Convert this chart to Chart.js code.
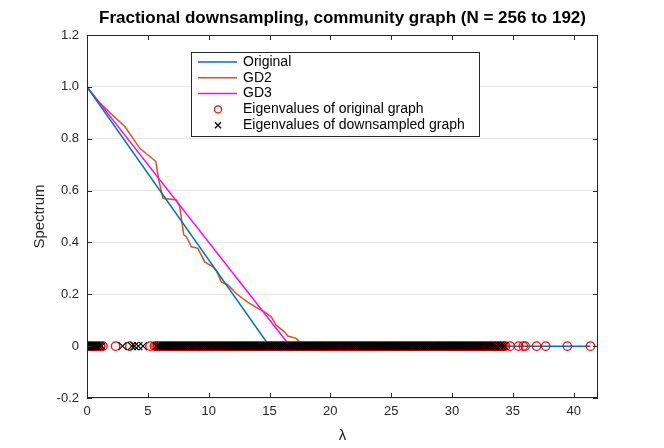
<!DOCTYPE html>
<html>
<head>
<meta charset="utf-8">
<script src="https://cdn.jsdelivr.net/npm/chart.js@4"></script>
<style>
  html, body { margin: 0; padding: 0; background: #fff; }
</style>
</head>
<body>
<canvas id="spectrumChart" width="664" height="448"></canvas>
<script>
const titleText = 'Fractional downsampling, community graph (N = 256 to 192)';
const xLabel = 'λ';
const yLabel = 'Spectrum';
const legendLabels = ['Original', 'GD2', 'GD3', 'Eigenvalues of original graph', 'Eigenvalues of downsampled graph'];

// filter responses
const originalX = [0, 15.0, 41.38];
const originalY = [1, 0, 0];

const gd2X = [0, 1.0, 2.0, 3.11, 4.34, 5.66, 5.9, 6.25, 7.35, 7.62, 7.95, 8.17, 8.58, 9.12, 9.67, 10.35, 10.64, 11.04, 11.58, 12.27, 12.95, 13.36, 14.04, 14.59, 15.14, 15.55, 16.23, 16.5, 17.19, 17.46, 17.62, 34.3];
const gd2Y = [1, 0.94, 0.895, 0.847, 0.763, 0.712, 0.64, 0.570, 0.564, 0.538, 0.429, 0.422, 0.383, 0.377, 0.325, 0.306, 0.29, 0.248, 0.236, 0.203, 0.178, 0.165, 0.146, 0.132, 0.113, 0.081, 0.055, 0.039, 0.030, 0.017, 0, 0];

const gd3X = [0, 16.7, 34.3];
const gd3Y = [1, 0, 0];

// eigenvalues of the original graph (N = 256)
const origEig = [
  0, 0.08, 0.21, 0.33, 0.47, 0.62, 0.79, 0.93, 1.12, 1.31,
  2.35, 3.52, 5.18,
  5.55, 5.68, 5.81, 5.94,
  6.06, 6.19, 6.3, 6.44, 6.57, 6.69, 6.81, 6.93,
  7.07, 7.18, 7.32, 7.44, 7.56, 7.69, 7.82, 7.94,
  8.05, 8.19, 8.31, 8.43, 8.57, 8.68, 8.82, 8.94,
  9.06, 9.18, 9.32, 9.43, 9.57, 9.7, 9.81, 9.93,
  10.07, 10.19, 10.3, 10.44, 10.56, 10.69, 10.8, 10.94,
  11.05, 11.18, 11.31, 11.43, 11.57, 11.68, 11.82, 11.93,
  12.06, 12.19, 12.31, 12.44, 12.55, 12.69, 12.81, 12.94,
  13.07, 13.18, 13.3, 13.44, 13.56, 13.68, 13.81, 13.93,
  14.06, 14.19, 14.32, 14.43, 14.56, 14.7, 14.81, 14.93,
  15.06, 15.18, 15.31, 15.44, 15.57, 15.68, 15.82, 15.94,
  16.05, 16.18, 16.32, 16.43, 16.56, 16.69, 16.81, 16.94,
  17.07, 17.19, 17.3, 17.43, 17.57, 17.69, 17.8, 17.93,
  18.06, 18.18, 18.31, 18.44, 18.56, 18.68, 18.82, 18.94,
  19.05, 19.19, 19.31, 19.43, 19.56, 19.69, 19.81, 19.94,
  20.06, 20.18, 20.31, 20.44, 20.57, 20.68, 20.81, 20.93,
  21.07, 21.19, 21.3, 21.44, 21.56, 21.69, 21.82, 21.93,
  22.05, 22.18, 22.31, 22.43, 22.56, 22.69, 22.81, 22.94,
  23.06, 23.19, 23.32, 23.44, 23.55, 23.68, 23.81, 23.94,
  24.07, 24.18, 24.31, 24.43, 24.57, 24.69, 24.8, 24.94,
  25.06, 25.19, 25.31, 25.43, 25.56, 25.69, 25.82, 25.93,
  26.06, 26.18, 26.32, 26.44, 26.56, 26.68, 26.81, 26.94,
  27.05, 27.19, 27.31, 27.43, 27.56, 27.7, 27.81, 27.93,
  28.06, 28.18, 28.31, 28.44, 28.57, 28.68, 28.81, 28.93,
  29.07, 29.19, 29.3, 29.44, 29.56, 29.69, 29.82, 29.94,
  30.05, 30.18, 30.31, 30.43, 30.56, 30.69, 30.81, 30.94,
  31.06, 31.19, 31.32, 31.43, 31.55, 31.68, 31.81, 31.94,
  32.07, 32.18, 32.31, 32.44, 32.57, 32.69, 32.8, 32.93,
  33.06, 33.19, 33.32, 33.44, 33.58, 33.71, 33.85, 33.98,
  34.12, 34.27, 34.4,
  34.78, 35.47, 35.86, 36.02, 36.95, 37.7, 39.48, 41.38
];

// eigenvalues of the downsampled graph (N = 192)
const downEig = [
  0, 0.06, 0.11, 0.19, 0.27, 0.36, 0.44, 0.52, 0.6, 0.72, 0.84, 1.02, 1.21,
  2.92, 3.68, 3.91, 4.22, 4.6,
  5.72, 5.9,
  6.07, 6.24, 6.41, 6.57, 6.74, 6.9,
  7.08, 7.24, 7.41, 7.58, 7.74, 7.91,
  8.07, 8.25, 8.41, 8.58, 8.74, 8.91,
  9.08, 9.24, 9.42, 9.57, 9.75, 9.91,
  10.08, 10.25, 10.41, 10.58, 10.74, 10.92,
  11.07, 11.24, 11.41, 11.59, 11.75, 11.91,
  12.08, 12.25, 12.42, 12.58, 12.74, 12.91,
  13.07, 13.25, 13.41, 13.58, 13.75, 13.92,
  14.08, 14.24, 14.41, 14.58, 14.75, 14.91,
  15.08, 15.25, 15.42, 15.58, 15.74, 15.91,
  16.07, 16.24, 16.41, 16.58, 16.75, 16.92,
  17.08, 17.24, 17.42, 17.58, 17.74, 17.91,
  18.08, 18.25, 18.41, 18.58, 18.75, 18.91,
  19.07, 19.24, 19.41, 19.59, 19.75, 19.92,
  20.08, 20.25, 20.41, 20.58, 20.74, 20.91,
  21.08, 21.24, 21.42, 21.58, 21.75, 21.91,
  22.07, 22.25, 22.41, 22.58, 22.74, 22.92,
  23.08, 23.24, 23.41, 23.58, 23.75, 23.91,
  24.08, 24.25, 24.42, 24.58, 24.74, 24.91,
  25.07, 25.24, 25.41, 25.58, 25.75, 25.92,
  26.08, 26.24, 26.41, 26.58, 26.74, 26.91,
  27.08, 27.25, 27.41, 27.58, 27.75, 27.91,
  28.07, 28.24, 28.42, 28.58, 28.74, 28.91,
  29.08, 29.25, 29.41, 29.58, 29.75, 29.92,
  30.08, 30.24, 30.41, 30.58, 30.74, 30.91,
  31.07, 31.25, 31.42, 31.58, 31.74, 31.91,
  32.08, 32.24, 32.41, 32.58, 32.75, 32.92,
  33.08, 33.27, 33.45, 33.66, 33.9,
  34.1, 34.3
];

const fontFamily = '"Liberation Sans", Arial, Helvetica, sans-serif';
const axisColor = '#262626';

function pairs(xs, ys) {
  return xs.map((x, i) => ({ x: x, y: ys[i] }));
}

const lineColors = ['#0072BD', '#D95319', '#FF00FF'];

const matlabFrame = {
  id: 'matlabFrame',
  afterDatasetsDraw(chart) {
    const { ctx, chartArea: a, scales } = chart;
    ctx.save();
    ctx.strokeStyle = axisColor;
    ctx.lineWidth = 1;
    ctx.strokeRect(a.left + 0.5, a.top + 0.5, a.right - a.left - 1, a.bottom - a.top - 1);
    ctx.beginPath();
    scales.x.ticks.forEach(t => {
      const px = Math.round(scales.x.getPixelForValue(t.value)) + 0.5;
      ctx.moveTo(px, a.bottom); ctx.lineTo(px, a.bottom - 5);
      ctx.moveTo(px, a.top); ctx.lineTo(px, a.top + 5);
    });
    scales.y.ticks.forEach(t => {
      const py = Math.round(scales.y.getPixelForValue(t.value)) + 0.5;
      ctx.moveTo(a.left, py); ctx.lineTo(a.left + 5, py);
      ctx.moveTo(a.right, py); ctx.lineTo(a.right - 5, py);
    });
    ctx.stroke();
    ctx.restore();
  },
  afterDraw(chart) {
    const { ctx, chartArea: a } = chart;
    ctx.save();
    // title
    ctx.fillStyle = '#000';
    ctx.font = 'bold 17px ' + fontFamily;
    ctx.textAlign = 'center';
    ctx.textBaseline = 'middle';
    ctx.fillText(titleText, (a.left + a.right) / 2, 18);
    // axis labels
    ctx.fillStyle = axisColor;
    ctx.font = '15px ' + fontFamily;
    ctx.fillText(xLabel, (a.left + a.right) / 2, 436);
    ctx.save();
    ctx.translate(40, (a.top + a.bottom) / 2);
    ctx.rotate(-Math.PI / 2);
    ctx.fillText(yLabel, 0, 0);
    ctx.restore();

    // legend
    const lx = 191, ly = 52, lw = 288, lh = 84;
    ctx.fillStyle = '#fff';
    ctx.fillRect(lx, ly, lw, lh);
    ctx.strokeStyle = axisColor;
    ctx.lineWidth = 1;
    ctx.strokeRect(lx + 0.5, ly + 0.5, lw, lh);
    ctx.font = '14px ' + fontFamily;
    ctx.textAlign = 'left';
    ctx.textBaseline = 'middle';
    legendLabels.forEach((label, i) => {
      const y = ly + 10 + i * 15.8;
      if (i < 3) {
        ctx.strokeStyle = lineColors[i];
        ctx.lineWidth = 1.5;
        ctx.beginPath();
        ctx.moveTo(lx + 7, y); ctx.lineTo(lx + 46, y);
        ctx.stroke();
      } else if (i === 3) {
        ctx.strokeStyle = '#FF0000';
        ctx.lineWidth = 1.3;
        ctx.beginPath();
        ctx.arc(lx + 27, y, 3.5, 0, Math.PI * 2);
        ctx.stroke();
      } else {
        ctx.strokeStyle = '#000';
        ctx.lineWidth = 1.3;
        ctx.beginPath();
        ctx.moveTo(lx + 24, y - 3); ctx.lineTo(lx + 30, y + 3);
        ctx.moveTo(lx + 30, y - 3); ctx.lineTo(lx + 24, y + 3);
        ctx.stroke();
      }
      ctx.fillStyle = '#000';
      ctx.fillText(label, lx + 52, y);
    });
    ctx.restore();
  }
};

const ctx = document.getElementById('spectrumChart').getContext('2d');

const chart = new Chart(ctx, {
  type: 'scatter',
  data: {
    datasets: [
      {
        label: legendLabels[4],
        data: downEig.map(l => ({ x: l, y: 0 })),
        pointStyle: 'crossRot',
        pointRadius: 5.7,
        borderColor: '#000',
        pointBorderWidth: 1.2,
        showLine: false,
        order: 0
      },
      {
        label: legendLabels[3],
        data: origEig.map(l => ({ x: l, y: 0 })),
        pointStyle: 'circle',
        pointRadius: 4.2,
        borderColor: '#FF0000',
        backgroundColor: 'rgba(0,0,0,0)',
        pointBorderWidth: 1.3,
        showLine: false,
        order: 1
      },
      {
        label: legendLabels[0],
        data: pairs(originalX, originalY),
        showLine: true,
        borderColor: lineColors[0],
        borderWidth: 1.5,
        pointRadius: 0,
        order: 2
      },
      {
        label: legendLabels[2],
        data: pairs(gd3X, gd3Y),
        showLine: true,
        borderColor: lineColors[2],
        borderWidth: 1.5,
        pointRadius: 0,
        order: 3
      },
      {
        label: legendLabels[1],
        data: pairs(gd2X, gd2Y),
        showLine: true,
        borderColor: lineColors[1],
        borderWidth: 1.5,
        pointRadius: 0,
        order: 4
      }
    ]
  },
  options: {
    responsive: false,
    animation: false,
    layout: {
      padding: { top: 35, right: 66, bottom: 0, left: 0 }
    },
    plugins: {
      legend: { display: false },
      title: { display: false },
      tooltip: { enabled: false }
    },
    scales: {
      x: {
        type: 'linear',
        min: 0,
        max: 42,
        afterFit: s => { s.height = 50; },
        border: { display: false },
        grid: { display: false, drawTicks: false },
        ticks: {
          stepSize: 5,
          includeBounds: false,
          padding: 6,
          maxRotation: 0,
          color: axisColor,
          font: { family: fontFamily, size: 13 }
        }
      },
      y: {
        type: 'linear',
        min: -0.2,
        max: 1.2,
        afterFit: s => { s.width = 87; },
        border: { display: false },
        grid: { color: '#e6e6e6', drawTicks: false },
        ticks: {
          stepSize: 0.2,
          padding: 8,
          color: axisColor,
          font: { family: fontFamily, size: 13 },
          callback: v => Math.abs(v) < 1e-9 ? '0' : v.toFixed(1)
        }
      }
    }
  },
  plugins: [matlabFrame]
});
</script>
</body>
</html>
